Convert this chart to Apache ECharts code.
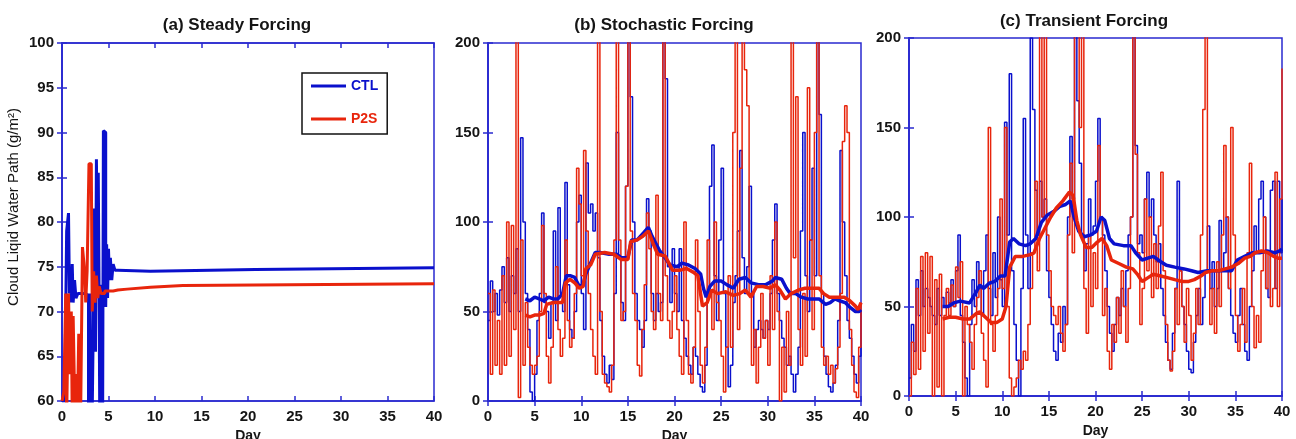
<!DOCTYPE html>
<html><head><meta charset="utf-8">
<script src="https://cdn.jsdelivr.net/npm/echarts@6.0.0/dist/echarts.min.js"></script>
<style>html,body{margin:0;padding:0;background:#fff}#c{width:1296px;height:439px}</style>
</head><body><div id="c"></div>
<script>
// ---------- data ----------
const panelTitles = ['(a) Steady Forcing', '(b) Stochastic Forcing', '(c) Transient Forcing'];
const seriesNames = ['CTL', 'P2S'];
const xLabel = 'Day';
const yLabel = 'Cloud Liqid Water Path (g/m\u00B2)';
const dayStep = 0.25; // sampling interval of the noisy series (days)

// (a) steady forcing: [day, value]
const aCTL = [[0,60],[0.3,61],[0.5,79],[0.7,81],[0.8,72],[0.9,75],[1.0,71],[1.1,75.3],[1.2,71],[1.35,73.5],[1.5,71.5],[1.7,72],[2.0,72],[2.5,71.8],[2.85,50],[3.0,72],[3.15,50],[3.35,67.5],[3.45,81.5],[3.6,65.5],[3.7,87],[3.85,72],[3.9,85.5],[4.0,70],[4.1,50],[4.25,73],[4.35,50],[4.45,90.2],[4.6,90],[4.7,70.5],[4.8,77.5],[4.9,71.5],[5.0,77],[5.1,73.5],[5.2,76],[5.35,73.5],[5.5,75.3],[5.7,74.6],[6,74.5],[9.5,74.5],[9.6,74.7],[20.8,74.7],[21,74.9],[40,74.9]];
const aP2S = [[0,60],[0.2,61],[0.4,72],[0.5,58],[0.7,72],[0.85,63],[1.0,70],[1.1,58],[1.2,69.5],[1.4,58],[1.55,63],[1.65,58],[1.8,67.5],[2.0,58],[2.2,77.2],[2.35,75.5],[2.45,74],[2.55,71],[2.7,74.5],[2.9,86.5],[3.15,86.3],[3.25,70],[3.4,74.5],[3.55,71],[3.7,74],[3.85,71.5],[4.0,72.8],[4.2,72],[4.6,72.3],[5.5,72.4],[6,72.5],[7,72.7],[9.5,72.9],[13,73.1],[40,73.1]];

// (b) stochastic forcing, raw values every dayStep days (0..40)
const bCTLraw = [
  45,67,50,60,48,62,75,55,80,50,70,60,85,50,147,100,60,40,5,0,
  15,45,60,105,55,50,35,55,95,45,108,60,50,122,65,40,35,50,100,115,
  60,40,133,105,110,95,105,80,45,25,15,10,20,12,60,150,80,55,45,120,
  230,170,100,60,45,40,30,45,113,95,60,45,60,50,55,230,180,75,55,85,
  60,50,85,45,35,25,20,15,30,25,15,8,5,20,60,120,143,70,45,90,
  130,60,30,8,20,55,70,95,140,80,60,75,120,60,30,40,45,40,35,45,
  40,60,90,110,60,45,35,30,20,25,15,5,15,30,95,150,70,50,90,130,
  70,230,160,60,25,15,8,5,10,20,45,140,100,70,45,35,25,15,10,25,
  50];
const bP2Sraw = [
  60,15,62,20,45,15,70,20,100,25,98,40,260,2,90,20,55,30,20,15,
  20,25,50,98,60,25,10,30,55,75,40,25,35,90,45,30,35,60,130,110,
  70,140,95,60,40,25,15,260,50,15,10,8,5,20,90,260,90,45,50,120,
  260,95,60,45,20,14,40,65,105,85,50,40,115,60,45,260,70,45,35,50,
  70,40,25,15,100,45,15,10,30,90,50,20,10,30,90,60,40,100,55,45,
  25,5,30,70,30,150,260,40,130,260,185,165,60,20,40,10,30,60,35,45,
  20,70,40,100,50,0,30,5,50,20,260,80,170,40,20,60,25,175,90,40,
  150,260,70,30,20,25,15,20,10,18,30,60,145,165,150,40,20,5,2,30,
  55];
const bCTLmean = [[4,57],[4.5,56],[5,58],[5.5,57],[6,56],[6.5,58],[7,57],[7.5,57],[8,60],[8.4,70],[8.8,70],[9.3,69],[9.8,64],[10.2,65],[10.5,71],[11,77],[11.5,83],[12,83],[13,82],[13.8,82],[14.3,80],[15,80],[15.4,90],[16,90],[16.7,94],[17.2,97],[17.6,92],[18,88],[18.4,84],[19,80],[19.5,76],[20.3,75],[20.8,77],[21.5,76],[22.2,74],[22.8,71],[23.1,63],[23.4,58],[23.8,64],[24.3,67],[25,67],[25.6,65],[26.3,63],[26.9,68],[27.6,69],[28.2,66],[29,65],[29.8,65],[30.5,67],[30.8,69],[31.5,68],[32,63],[32.4,60],[33,60],[33.6,58],[34.3,57],[34.8,57],[35.5,57],[36.2,54],[36.7,55],[37.2,57],[37.7,56],[38.3,55],[38.9,52],[39.4,50],[39.8,50],[40,51]];
const bP2Smean = [[4,48],[4.5,47],[5,48],[5.5,48],[6,49],[6.3,54],[7,55],[7.5,55],[8,55],[8.3,66],[8.8,68],[9.3,66],[9.8,63],[10.2,64],[10.5,74],[11,76],[11.5,82],[12.5,83],[13.5,82],[14.3,79],[15,79],[15.3,89],[16,90],[16.6,92],[17.2,95],[17.7,88],[18.2,82],[19,81],[19.8,73],[20.5,73],[21.3,74],[22,72],[22.5,70],[23,53],[23.5,55],[24,62],[24.6,60],[25.5,61],[26.3,59],[27,60],[27.6,62],[28.2,58],[28.8,64],[29.5,64],[30.3,63],[30.8,65],[31.3,62],[31.9,57],[32.5,60],[33.3,62],[34,63],[34.8,63],[35.5,63],[36,60],[36.6,58],[37.3,58],[38.2,58],[38.8,56],[39.4,53],[39.7,51],[40,55]];

// (c) transient forcing, raw values every dayStep days (0..40)
const cCTLraw = [
  10,40,25,65,45,70,50,60,55,50,45,40,60,45,55,50,58,52,65,50,
  70,90,45,30,10,0,40,65,50,75,60,45,70,90,60,45,80,55,100,65,
  50,153,90,180,70,40,20,0,60,155,90,60,200,160,115,90,120,100,110,70,
  55,40,25,20,35,30,50,40,100,145,110,230,165,130,90,70,85,110,90,95,
  120,155,100,90,70,50,35,25,40,55,45,60,50,70,90,100,230,140,85,90,
  80,110,125,100,110,90,75,85,60,45,30,20,15,35,60,120,70,50,40,25,
  15,13,30,45,60,40,55,70,95,60,75,50,60,98,70,80,100,60,45,35,
  30,45,60,40,25,20,50,70,95,80,110,120,100,60,55,115,120,60,120,80,
  110];
const cP2Sraw = [
  0,30,12,60,15,78,25,80,35,78,0,65,5,68,0,45,60,45,62,50,
  72,55,75,0,50,40,30,15,40,55,70,35,20,5,150,40,25,45,60,110,
  60,150,50,10,0,5,10,20,15,25,20,40,60,80,120,70,260,100,260,90,
  70,50,45,40,50,35,25,40,90,130,80,260,260,150,260,60,35,90,50,80,
  60,140,100,45,60,25,15,40,30,55,35,70,50,30,60,100,260,135,80,40,
  60,110,70,100,55,85,60,95,125,70,40,20,14,25,60,40,70,50,30,60,
  45,20,35,60,40,90,160,260,70,40,60,35,75,50,90,140,100,60,150,90,
  45,25,40,60,30,80,130,50,27,45,30,70,100,60,80,50,60,125,50,110,
  183];
const cCTLmean = [[3.6,50],[4.2,50],[4.8,52],[5.5,53],[6.5,52],[7.2,58],[7.6,62],[8,60],[8.6,63],[9.2,64],[9.8,67],[10.3,67],[10.8,86],[11.2,88],[11.8,85],[12.5,84],[13,85],[13.6,88],[14.2,97],[14.8,101],[15.5,103],[16.2,106],[16.8,107],[17.3,109],[17.7,100],[18.2,92],[18.8,89],[19.5,90],[20.1,92],[20.6,100],[21,98],[21.5,88],[22,85],[23,84],[23.8,84],[24.3,80],[25,76],[25.6,77],[26.2,78],[27,75],[27.6,73],[28.5,72],[29.5,71],[30.3,70],[31,69],[32,70],[33,70],[34,70],[34.6,70],[35.2,76],[36,78],[36.8,80],[37.6,80],[38.4,81],[39.2,80],[39.7,81],[40,82]];
const cP2Smean = [[3.6,43],[4.3,44],[5,44],[5.8,43],[6.5,43],[7.2,46],[7.6,47],[8.2,44],[8.8,41],[9.4,41],[10,43],[10.4,50],[10.8,72],[11.4,78],[12.2,78],[13,79],[13.4,80],[14,88],[14.5,93],[15.2,100],[15.8,105],[16.5,109],[17.2,114],[17.6,112],[18,98],[18.4,90],[19,83],[19.6,83],[20.2,86],[20.7,88],[21.2,84],[21.7,76],[22.5,74],[23.3,72],[24,71],[24.5,68],[25,64],[25.6,66],[26.2,68],[27,67],[27.8,66],[28.5,65],[29.3,64],[30,64],[30.6,65],[31.3,67],[31.8,69],[32.5,70],[33.2,70],[33.9,71],[34.6,72],[35.3,74],[36,77],[36.6,78],[37.1,80],[37.8,81],[38.5,80],[39.1,78],[39.6,77],[40,77]];

// ---------- styles ----------
const BLUE = '#0a10cc';
const RED = '#e8250c';
const AX = '#2a2ad0';
const TXT = '#151515';
const FONT = 'Liberation Sans, Arial, sans-serif';

const grids = [
  {left: 62, right: 862, top: 43, bottom: 38},
  {left: 488, right: 435, top: 43, bottom: 38},
  {left: 909, right: 14, top: 38, bottom: 43}
];
const yRanges = [[60, 100, 5], [0, 200, 50], [0, 200, 50]];
const titleCenters = [[232, 12], [659, 12], [1079, 8]];

function toPairs(vals) { return vals.map((v, i) => [i * dayStep, v]); }

const xAxes = [], yAxes = [];
grids.forEach((g, gi) => {
  const base = {
    type: 'value', gridIndex: gi, min: 0, max: 40, interval: 5,
    axisLine: {show: true, lineStyle: {color: AX, width: 1.5}},
    axisTick: {show: true, inside: true, length: 5, lineStyle: {color: AX, width: 1.5}},
    splitLine: {show: false}
  };
  xAxes.push(Object.assign({}, base, {
    position: 'bottom',
    axisLabel: {show: true, color: TXT, fontWeight: 'bold', fontSize: 15, fontFamily: FONT, margin: 8},
    name: xLabel, nameLocation: 'middle', nameGap: 25,
    nameTextStyle: {color: TXT, fontWeight: 'bold', fontSize: 14, fontFamily: FONT}
  }));
  xAxes.push(Object.assign({}, base, {position: 'top', axisLabel: {show: false}}));
  const yr = yRanges[gi];
  const ybase = {
    type: 'value', gridIndex: gi, min: yr[0], max: yr[1], interval: yr[2],
    axisLine: {show: true, lineStyle: {color: AX, width: 1.5}},
    axisTick: {show: true, inside: true, length: 5, lineStyle: {color: AX, width: 1.5}},
    splitLine: {show: false}
  };
  yAxes.push(Object.assign({}, ybase, {
    position: 'left',
    axisLabel: {show: true, color: TXT, fontWeight: 'bold', fontSize: 15, fontFamily: FONT, margin: 8},
    name: gi === 0 ? yLabel : '', nameLocation: 'middle', nameGap: 41,
    nameTextStyle: {color: TXT, fontSize: 15, fontFamily: FONT, padding: [0, 0, 0, 30]}
  }));
  yAxes.push(Object.assign({}, ybase, {position: 'right', axisLabel: {show: false}}));
});

function line(name, data, gi, color, width, step) {
  return {
    name: name, type: 'line', data: data,
    xAxisIndex: gi * 2, yAxisIndex: gi * 2,
    showSymbol: false, symbol: 'none', step: step || false, clip: true,
    lineStyle: {color: color, width: width}, itemStyle: {color: color},
    emphasis: {disabled: true}, silent: true
  };
}

const series = [
  line(seriesNames[0], aCTL, 0, BLUE, 3, 'end'),
  line(seriesNames[1], aP2S, 0, RED, 3, 'end'),
  line(seriesNames[0], toPairs(bCTLraw), 1, BLUE, 1.5, 'end'),
  line(seriesNames[1], toPairs(bP2Sraw), 1, RED, 1.5, 'end'),
  line(seriesNames[0], bCTLmean, 1, BLUE, 3.5),
  line(seriesNames[1], bP2Smean, 1, RED, 3.5),
  line(seriesNames[0], toPairs(cCTLraw), 2, BLUE, 1.5, 'end'),
  line(seriesNames[1], toPairs(cP2Sraw), 2, RED, 1.5, 'end'),
  line(seriesNames[0], cCTLmean, 2, BLUE, 3.5),
  line(seriesNames[1], cP2Smean, 2, RED, 3.5)
];

const option = {
  animation: false,
  backgroundColor: '#fff',
  title: panelTitles.map((t, i) => ({
    text: t, left: titleCenters[i][0], top: titleCenters[i][1], textAlign: 'center',
    textStyle: {color: TXT, fontWeight: 'bold', fontSize: 17, fontFamily: FONT}
  })),
  grid: grids.map(g => Object.assign({show: true, borderColor: AX, borderWidth: 1.5, backgroundColor: 'transparent', containLabel: false, outerBoundsMode: 'none'}, g)),
  xAxis: xAxes,
  yAxis: yAxes,
  legend: {
    orient: 'vertical', left: 302, top: 73,
    borderColor: '#111', borderWidth: 1.5, padding: [6, 9, 8, 9],
    itemWidth: 35, itemHeight: 3, itemGap: 19, icon: 'rect',
    textStyle: {fontSize: 14, fontFamily: FONT, fontWeight: 'bold'},
    data: [
      {name: seriesNames[0], textStyle: {color: BLUE}},
      {name: seriesNames[1], textStyle: {color: RED}}
    ],
    selectedMode: false
  },
  series: series
};

const chart = echarts.init(document.getElementById('c'), null, {renderer: 'canvas'});
chart.setOption(option);
</script>
</body></html>
